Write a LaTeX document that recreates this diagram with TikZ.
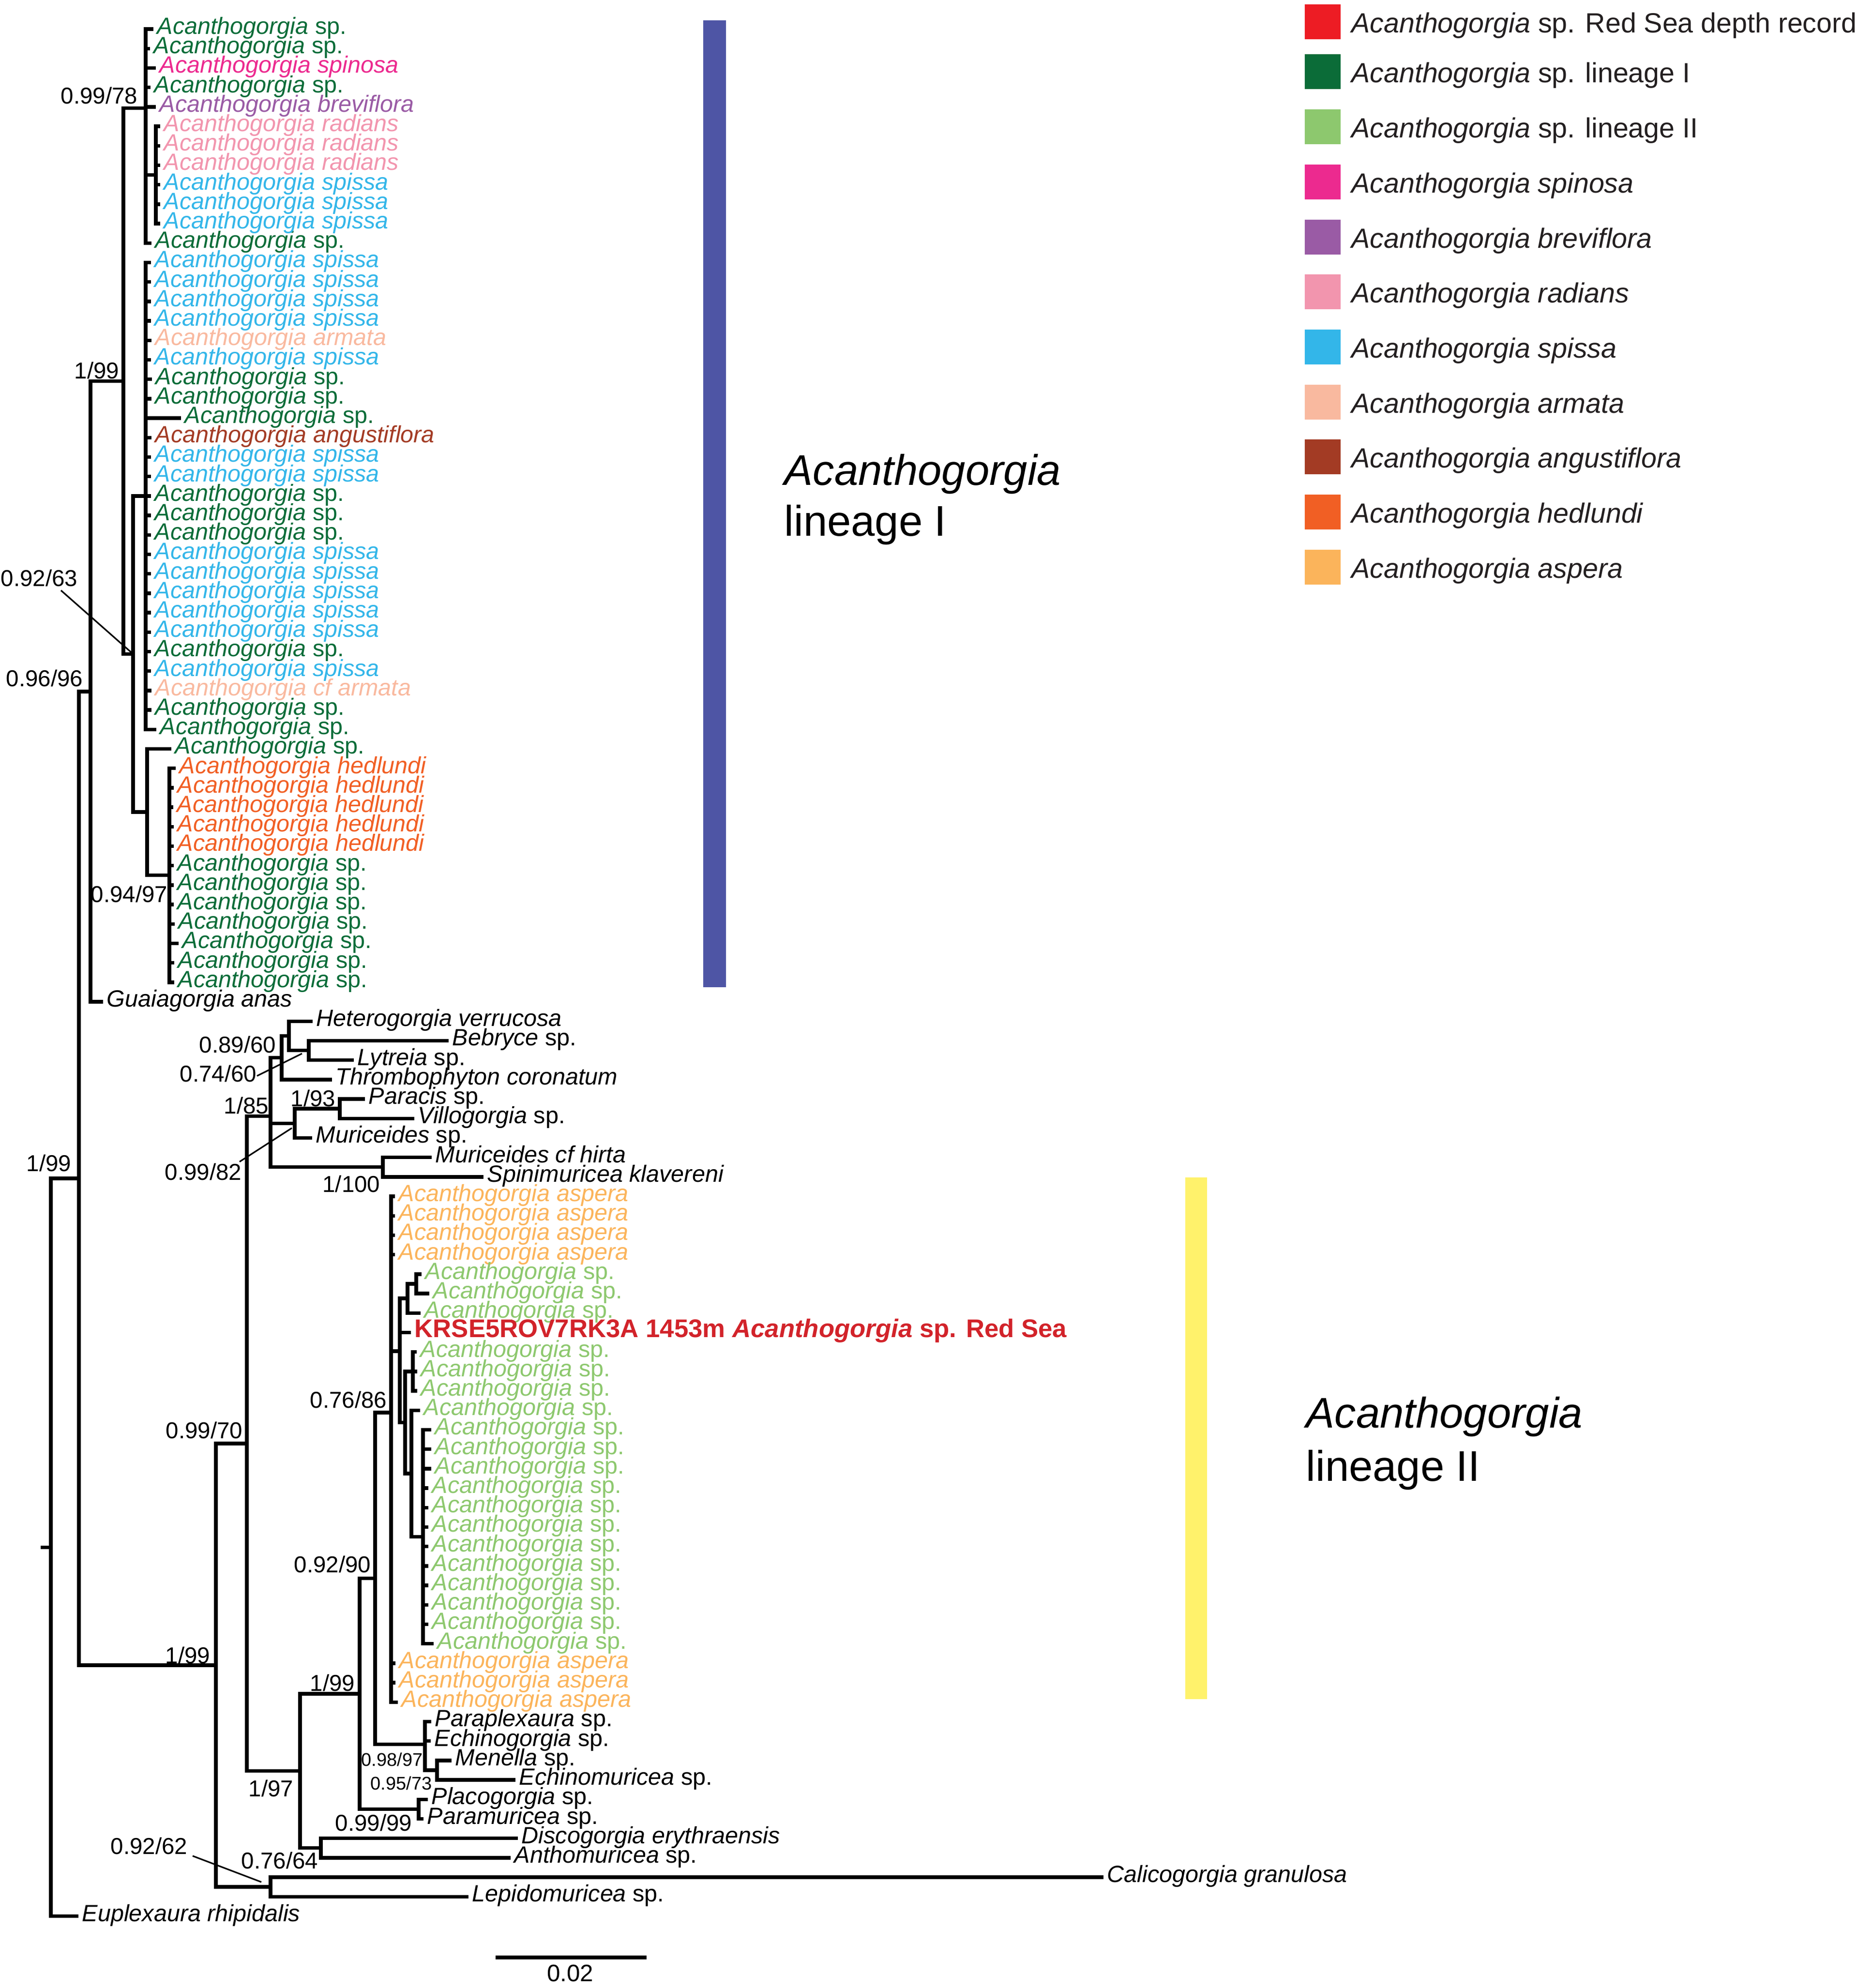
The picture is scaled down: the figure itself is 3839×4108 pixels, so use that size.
\documentclass[tikz,border=0pt]{standalone}
\usepackage{fontspec}
\setmainfont{Liberation Sans}
\usepackage{tikz}
\usetikzlibrary{positioning}

\definecolor{ccred}{HTML}{ED1C24}
\definecolor{cclinI}{HTML}{0B6C38}
\definecolor{cclinII}{HTML}{8DC86E}
\definecolor{ccspinosa}{HTML}{EC2A8F}
\definecolor{ccbrevi}{HTML}{9A5BA5}
\definecolor{ccradians}{HTML}{F295AE}
\definecolor{ccspissa}{HTML}{33B6E9}
\definecolor{ccarmata}{HTML}{F9B99F}
\definecolor{ccangust}{HTML}{A33B24}
\definecolor{cchedl}{HTML}{F15F24}
\definecolor{ccaspera}{HTML}{FBB45B}
\definecolor{cckrse}{HTML}{D2232A}
\definecolor{barblue}{HTML}{4E55A5}
\definecolor{baryellow}{HTML}{FFF26B}
\definecolor{legtext}{HTML}{231F20}

\pgfmathdeclarefunction{rowy}{1}{\pgfmathparse{55+40.2*(#1-1)}}

\tikzset{
  br/.style={line width=2.1pt, line cap=rect, line join=miter},
  ptr/.style={line width=0.9pt},
  lf/.style={anchor=west, inner xsep=0.11cm, inner ysep=0pt, text height=0.76em, text depth=0.16em, font=\fontsize{13.8}{16}\selectfont},
  bs/.style={inner sep=0pt, text height=0.72em, text depth=0.02em, font=\fontsize{13.5}{16}\selectfont},
  bss/.style={bs, font=\fontsize{10.8}{13}\selectfont},
  legsq/.style={minimum width=0.74cm, minimum height=0.72cm, inner sep=0pt},
  legtx/.style={anchor=west, inner sep=0pt, text=legtext, text height=0.72em, text depth=0.2em, font=\fontsize{16.3}{20}\selectfont},
  big/.style={anchor=base west, inner sep=0pt, font=\fontsize{25.2}{30}\selectfont}
}

\begin{document}
\begin{tikzpicture}[x=0.01cm, y=-0.01cm]
\useasboundingbox (0,0) rectangle (3839,4108);

% clade bars
\fill[barblue] (1453,42) rectangle (1500,2040);
\fill[baryellow] (2449,2433) rectangle (2494,3511);
\node[big] (lin1a) at (1620,1002) {\textit{Acanthogorgia}};
\node[big] (lin1b) at (1620,1107) {lineage I};
\node[big] (lin2a) at (2698,2950) {\textit{Acanthogorgia}};
\node[big] (lin2b) at (2698,3060) {lineage II};

\begin{scope}[yshift=-0.05cm]
% internal nodes
\coordinate (n_stub) at (88,3192.2);
\coordinate (n_root) at (105,3192.2);
\coordinate (n_a) at (163,2429.9);
\coordinate (n_b) at (187,1423.8);
\coordinate (n_c) at (255,782.5);
\coordinate (n_tc) at (301,218.7);
\coordinate (n_h) at (322,356.5);
\coordinate (n_d) at (275,1346.4);
\coordinate (n_e) at (301,1019.8);
\coordinate (n_f) at (304,1673.1);
\coordinate (n_g) at (350,1803.7);
\coordinate (n_i) at (446,3436.0);
\coordinate (n_j) at (510,2977.8);
\coordinate (n_k) at (559,2301.2);
\coordinate (n_l) at (582,2180.6);
\coordinate (n_l1) at (597,2135.4);
\coordinate (n_l2) at (638,2165.5);
\coordinate (n_m1) at (609,2316.3);
\coordinate (n_m2) at (702,2286.1);
\coordinate (n_n) at (791,2406.7);
\coordinate (n_o) at (620,3654.4);
\coordinate (n_q) at (743,3495.0);
\coordinate (n_t) at (775,3256.7);
\coordinate (n_u) at (808,2914.0);
\coordinate (n_x) at (826,2786.9);
\coordinate (n_x2) at (842,2678.1);
\coordinate (n_x3) at (860,2647.9);
\coordinate (n_y) at (837,2934.3);
\coordinate (n_y1) at (853,2828.8);
\coordinate (n_y2) at (850,3039.9);
\coordinate (n_z) at (874,3170.5);
\coordinate (n_v) at (878,3599.3);
\coordinate (n_w) at (903,3652.9);
\coordinate (n_s) at (865,3733.3);
\coordinate (n_r) at (663,3813.7);
\coordinate (n_p) at (559,3894.1);

% backbone
\draw[br] (n_stub) -- (n_root);
\draw[br] (n_root) |- (n_a);
\draw[br] (n_a) |- (n_b);
\draw[br] (n_a) |- (n_i);
\draw[br] (n_b) |- (n_c);
\draw[br] (n_c) |- (n_tc);
\draw[br] (n_c) |- (n_d);
\draw[br] (n_tc) |- (n_h);
\draw[br] (n_d) |- (n_e);
\draw[br] (n_d) |- (n_f);
\draw[br] (n_f) |- (n_g);
\draw[br] (n_i) |- (n_j);
\draw[br] (n_i) |- (n_p);
\draw[br] (n_j) |- (n_k);
\draw[br] (n_j) |- (n_o);
\draw[br] (n_k) |- (n_l);
\draw[br] (n_l) |- (n_l1);
\draw[br] (n_l1) |- (n_l2);
\draw[br] (n_k) |- (n_m1);
\draw[br] (n_m1) |- (n_m2);
\draw[br] (n_k) |- (n_n);
\draw[br] (n_o) |- (n_q);
\draw[br] (n_o) |- (n_r);
\draw[br] (n_q) |- (n_t);
\draw[br] (n_q) |- (n_s);
\draw[br] (n_t) |- (n_u);
\draw[br] (n_t) |- (n_v);
\draw[br] (n_u) |- (n_x);
\draw[br] (n_x) |- (n_x2);
\draw[br] (n_x2) |- (n_x3);
\draw[br] (n_x) |- (n_y);
\draw[br] (n_y) |- (n_y1);
\draw[br] (n_y) |- (n_y2);
\draw[br] (n_y2) |- (n_z);
\draw[br] (n_v) |- (n_w);

% lineage I leaves
\foreach \i/\ex/\cl/\tx in {1/313/cclinI/sp.,2/306/cclinI/sp.,3/318/ccspinosa/\textit{spinosa},4/307/cclinI/sp.,5/318/ccbrevi/\textit{breviflora},12/309/cclinI/sp.}{
  \node[lf,text=\cl] (l_\i) at (\ex,{rowy(\i)}) {\textit{Acanthogorgia} \tx};
  \draw[br] (n_tc) |- (l_\i.west);
}
\foreach \i/\cl/\tx in {6/ccradians/radians,7/ccradians/radians,8/ccradians/radians,9/ccspissa/spissa,10/ccspissa/spissa,11/ccspissa/spissa}{
  \node[lf,text=\cl] (l_\i) at (327,{rowy(\i)}) {\textit{Acanthogorgia \tx}};
  \draw[br] (n_h) |- (l_\i.west);
}
\foreach \i in {13,14,15,16,18,23,24,28,29,30,31,32,34}{
  \node[lf,text=ccspissa] (l_\i) at (308,{rowy(\i)}) {\textit{Acanthogorgia spissa}};
  \draw[br] (n_e) |- (l_\i.west);
}
\foreach \i/\ex in {19/310,20/309,21/370,25/308,26/308,27/308,33/308,36/309,37/319}{
  \node[lf,text=cclinI] (l_\i) at (\ex,{rowy(\i)}) {\textit{Acanthogorgia} sp.};
  \draw[br] (n_e) |- (l_\i.west);
}
\foreach \i/\cl/\tx in {17/ccarmata/armata,22/ccangust/angustiflora,35/ccarmata/cf armata}{
  \node[lf,text=\cl] (l_\i) at (309,{rowy(\i)}) {\textit{Acanthogorgia \tx}};
  \draw[br] (n_e) |- (l_\i.west);
}
\node[lf,text=cclinI] (l_38) at (350,{rowy(38)}) {\textit{Acanthogorgia} sp.};
\draw[br] (n_f) |- (l_38.west);
\foreach \i/\ex in {39/359,40/355,41/354,42/355,43/355}{
  \node[lf,text=cchedl] (l_\i) at (\ex,{rowy(\i)}) {\textit{Acanthogorgia hedlundi}};
  \draw[br] (n_g) |- (l_\i.west);
}
\foreach \i/\ex in {44/355,45/355,46/355,47/357,48/365,49/356,50/356}{
  \node[lf,text=cclinI] (l_\i) at (\ex,{rowy(\i)}) {\textit{Acanthogorgia} sp.};
  \draw[br] (n_g) |- (l_\i.west);
}
\node[lf] (l_51) at (209,{rowy(51)}) {\textit{Guaiagorgia anas}};
\draw[br] (n_b) |- (l_51.west);

% outgroup clade
\node[lf] (l_52) at (642,{rowy(52)}) {\textit{Heterogorgia verrucosa}};
\node[lf] (l_53) at (923,{rowy(53)}) {\textit{Bebryce} sp.};
\node[lf] (l_54) at (727,{rowy(54)}) {\textit{Lytreia} sp.};
\node[lf] (l_55) at (682,{rowy(55)}) {\textit{Thrombophyton coronatum}};
\node[lf] (l_56) at (750,{rowy(56)}) {\textit{Paracis} sp.};
\node[lf] (l_57) at (852,{rowy(57)}) {\textit{Villogorgia} sp.};
\node[lf] (l_58) at (641,{rowy(58)}) {\textit{Muriceides} sp.};
\node[lf] (l_59) at (888,{rowy(59)}) {\textit{Muriceides cf hirta}};
\node[lf] (l_60) at (995,{rowy(60)}) {\textit{Spinimuricea klavereni}};
\draw[br] (n_l1) |- (l_52.west);
\draw[br] (n_l2) |- (l_53.west);
\draw[br] (n_l2) |- (l_54.west);
\draw[br] (n_l) |- (l_55.west);
\draw[br] (n_m2) |- (l_56.west);
\draw[br] (n_m2) |- (l_57.west);
\draw[br] (n_m1) |- (l_58.west);
\draw[br] (n_n) |- (l_59.west);
\draw[br] (n_n) |- (l_60.west);

% lineage II leaves
\foreach \i/\ex in {61/812,62/812,63/812,64/812,85/813,86/813,87/818}{
  \node[lf,text=ccaspera] (l_\i) at (\ex,{rowy(\i)}) {\textit{Acanthogorgia aspera}};
  \draw[br] (n_u) |- (l_\i.west);
}
\foreach \i/\ex/\pa in {65/867/n_x3,66/883/n_x3,67/865/n_x2,69/857/n_y1,70/858/n_y1,71/858/n_y1,72/864/n_y2,73/887/n_z,74/887/n_z,75/887/n_z,76/881/n_z,77/881/n_z,78/881/n_z,79/881/n_z,80/881/n_z,81/881/n_z,82/881/n_z,83/881/n_z,84/892/n_z}{
  \node[lf,text=cclinII] (l_\i) at (\ex,{rowy(\i)}) {\textit{Acanthogorgia} sp.};
  \draw[br] (\pa) |- (l_\i.west);
}
\node[lf,text=cckrse,font=\fontsize{15}{17}\selectfont\bfseries] (l_68) at (845,{rowy(68)}) {KRSE5ROV7RK3A 1453m \textit{Acanthogorgia} sp. Red Sea};
\draw[br] (n_x) |- (l_68.west);

\node[lf] (l_88) at (887,{rowy(88)}) {\textit{Paraplexaura} sp.};
\node[lf] (l_89) at (886,{rowy(89)}) {\textit{Echinogorgia} sp.};
\node[lf] (l_90) at (929,{rowy(90)}) {\textit{Menella} sp.};
\node[lf] (l_91) at (1061,{rowy(91)}) {\textit{Echinomuricea} sp.};
\node[lf] (l_92) at (880,{rowy(92)}) {\textit{Placogorgia} sp.};
\node[lf] (l_93) at (871,{rowy(93)}) {\textit{Paramuricea} sp.};
\node[lf] (l_94) at (1066,{rowy(94)}) {\textit{Discogorgia erythraensis}};
\node[lf] (l_95) at (1051,{rowy(95)}) {\textit{Anthomuricea} sp.};
\node[lf] (l_96) at (2276,{rowy(96)}) {\textit{Calicogorgia granulosa}};
\node[lf] (l_97) at (964,{rowy(97)}) {\textit{Lepidomuricea} sp.};
\node[lf] (l_98) at (158,{rowy(98)}) {\textit{Euplexaura rhipidalis}};
\draw[br] (n_v) |- (l_88.west);
\draw[br] (n_v) |- (l_89.west);
\draw[br] (n_w) |- (l_90.west);
\draw[br] (n_w) |- (l_91.west);
\draw[br] (n_s) |- (l_92.west);
\draw[br] (n_s) |- (l_93.west);
\draw[br] (n_r) |- (l_94.west);
\draw[br] (n_r) |- (l_95.west);
\draw[br] (n_p) |- (l_96.west);
\draw[br] (n_p) |- (l_97.west);
\draw[br] (n_root) |- (l_98.west);

% support values
\node[bs,anchor=south east] (s_tc) at (285,211) {0.99/78};
\node[bs,anchor=south east] (s_c) at (247,779) {1/99};
\node[bs,anchor=south east] (s_d) at (161,1208) {0.92/63};
\node[bs,anchor=south east] (s_b) at (172,1415) {0.96/96};
\node[bs,anchor=south east] (s_g) at (347,1861) {0.94/97};
\node[bs,anchor=south east] (s_a) at (148,2417) {1/99};
\node[bs,anchor=south east] (s_l) at (571,2172) {0.89/60};
\node[bs,anchor=south east] (s_l2) at (531,2232) {0.74/60};
\node[bs,anchor=south east] (s_k) at (556,2298) {1/85};
\node[bs,anchor=south east] (s_m2) at (694,2283) {1/93};
\node[bs,anchor=south east] (s_m1) at (500,2435) {0.99/82};
\node[bs,anchor=south east] (s_n) at (786,2460) {1/100};
\node[bs,anchor=south east] (s_j) at (502,2969) {0.99/70};
\node[bs,anchor=south east] (s_u) at (800,2906) {0.76/86};
\node[bs,anchor=south east] (s_t) at (767,3246) {0.92/90};
\node[bs,anchor=south east] (s_q) at (734,3491) {1/99};
\node[bs,anchor=south east] (s_i) at (435,3434) {1/99};
\node[bs,anchor=south east] (s_o) at (607,3709) {1/97};
\node[bss,anchor=south east] (s_v) at (874,3646) {0.98/97};
\node[bss,anchor=south east] (s_w) at (893,3695) {0.95/73};
\node[bs,anchor=south east] (s_s) at (852,3780) {0.99/99};
\node[bs,anchor=south east] (s_r) at (658,3858) {0.76/64};
\node[bs,anchor=south east] (s_p) at (388,3828) {0.92/62};

% leader lines
\coordinate (p_l2) at (624,2172);
\coordinate (p_m1) at (603,2326);
\coordinate (p_p) at (540,3884);
\draw[ptr] ([xshift=-0.35cm,yshift=-0.07cm]s_d.south east) -- (n_d);
\draw[ptr] (s_l2.east) -- (p_l2);
\draw[ptr] ([xshift=-0.05cm,yshift=0.12cm]s_m1.north east) -- (p_m1);
\draw[ptr] ([xshift=0.1cm,yshift=-0.02cm]s_p.south east) -- (p_p);
\end{scope}

% scale bar
\coordinate (sb_a) at (1028,4045);
\coordinate (sb_b) at (1332,4045);
\draw[br] (sb_a) -- (sb_b);
\node[anchor=base, inner sep=0pt, font=\fontsize{14}{16}\selectfont] (sb_lab) at (1178,4094) {0.02};

% legend
\foreach \i/\yy/\cl/\tx in {1/45/ccred/{sp. Red Sea depth record},2/148/cclinI/{sp. lineage I},3/262/cclinII/{sp. lineage II},4/376/ccspinosa/\textit{spinosa},5/490/ccbrevi/\textit{breviflora},6/603/ccradians/\textit{radians},7/717/ccspissa/\textit{spissa},8/831/ccarmata/\textit{armata},9/944/ccangust/\textit{angustiflora},10/1058/cchedl/\textit{hedlundi},11/1172/ccaspera/\textit{aspera}}{
  \node[legsq,fill=\cl] (sq_\i) at (2733,\yy) {};
  \node[legtx,right=0.21cm of sq_\i,yshift=-0.13cm] (lg_\i) {\textit{Acanthogorgia} \tx};
}
\end{tikzpicture}
\end{document}
